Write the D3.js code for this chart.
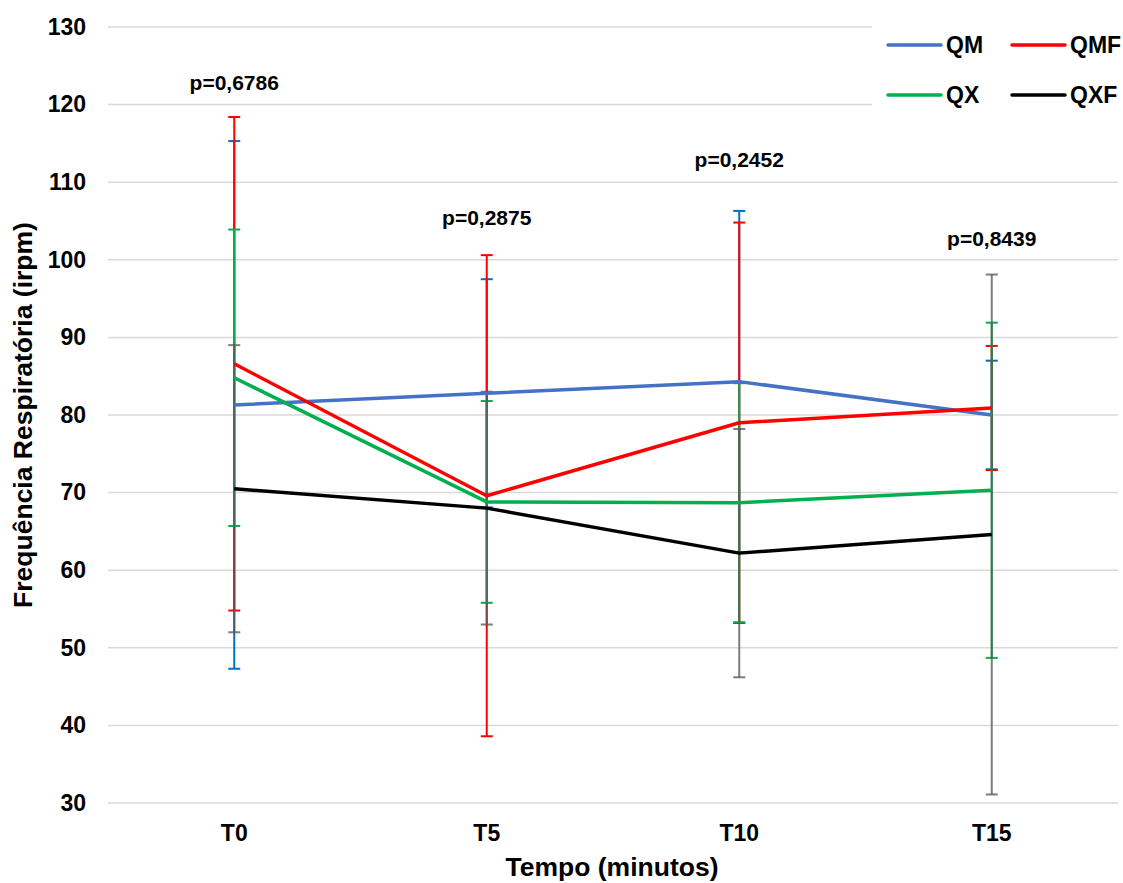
<!DOCTYPE html>
<html><head><meta charset="utf-8">
<script src="https://cdn.jsdelivr.net/npm/d3@7"></script>
<style>body{margin:0;background:#fff}svg{display:block;font-family:"Liberation Sans",Arial,sans-serif;font-weight:bold}</style>
</head><body><svg id="c" width="1123" height="883"></svg>
<script>
const categories = ["T0","T5","T10","T15"];
const seriesNames = ["QM","QMF","QX","QXF"];
const QM  = [81.3, 82.8, 84.3, 80.0];
const QMF = [86.6, 69.6, 79.0, 80.9];
const QX  = [84.8, 68.8, 68.7, 70.3];
const QXF = [70.5, 68.0, 62.2, 64.6];
const QM_err  = [34.0, 14.7, 22.0, 7.0];
const QMF_err = [31.8, 31.0, 25.8, 8.0];
const QX_err  = [19.1, 13.0, 15.4, 21.6];
const QXF_err = [18.5, 15.0, 16.0, 33.5];
const yTicks = [30,40,50,60,70,80,90,100,110,120,130];
const pLabels = ["p=0,6786","p=0,2875","p=0,2452","p=0,8439"];
const pLabelY = [122.9, 105.4, 112.9, 102.8];

const lineColors = {QM:"#4472C4", QMF:"#FF0000", QX:"#00B050", QXF:"#000000"};
const errColors = {QM:"#0070C0", QMF:"#FF0000", QX:"#00B050", QXF:"#595959"};
const errOpacity = {QM:1, QMF:1, QX:1, QXF:0.78};
const values = {QM, QMF, QX, QXF};
const errs = {QM:QM_err, QMF:QMF_err, QX:QX_err, QXF:QXF_err};

const svg = d3.select("#c");
const x = d3.scaleBand().domain(categories).range([108,1118]);
const y = d3.scaleLinear().domain([30,130]).range([803,27]);
const cx = c => x(c) + x.bandwidth()/2;

// gridlines
svg.append("g").selectAll("line").data(yTicks).join("line")
  .attr("x1",108).attr("x2",1118).attr("y1",d=>y(d)).attr("y2",d=>y(d))
  .attr("stroke","#d9d9d9").attr("stroke-width",1.5);

// y axis labels
const yAxis = d3.axisLeft(y).tickValues(yTicks).tickSize(0).tickPadding(0);
const gy = svg.append("g").attr("transform","translate(86,0)").call(yAxis);
gy.select(".domain").remove();
gy.selectAll("text").attr("font-size",23).attr("font-weight","bold").attr("fill","#000")
  .attr("font-family","Liberation Sans, Arial, sans-serif");

// x axis labels
const xAxis = d3.axisBottom(x).tickSize(0).tickPadding(0);
const gx = svg.append("g").attr("transform","translate(0,825)").call(xAxis);
gx.select(".domain").remove();
gx.selectAll("text").attr("font-size",23).attr("font-weight","bold").attr("fill","#000")
  .attr("font-family","Liberation Sans, Arial, sans-serif");

// error bars
seriesNames.forEach(s => {
  const g = svg.append("g").attr("stroke",errColors[s]).attr("stroke-opacity",errOpacity[s]).attr("stroke-width",2);
  categories.forEach((c,i) => {
    const v = values[s][i], e = errs[s][i], xc = cx(c);
    g.append("line").attr("x1",xc).attr("x2",xc).attr("y1",y(v+e)).attr("y2",y(v-e));
    g.append("line").attr("x1",xc-6).attr("x2",xc+6).attr("y1",y(v+e)).attr("y2",y(v+e));
    g.append("line").attr("x1",xc-6).attr("x2",xc+6).attr("y1",y(v-e)).attr("y2",y(v-e));
  });
});

// lines
const line = d3.line().x((d,i)=>cx(categories[i])).y(d=>y(d));
seriesNames.forEach(s => {
  svg.append("path").datum(values[s]).attr("d",line).attr("fill","none")
    .attr("stroke",lineColors[s]).attr("stroke-width",3.5).attr("stroke-linejoin","round");
});

// p labels
svg.append("g").selectAll("text").data(pLabels).join("text")
  .attr("x",(d,i)=>cx(categories[i])).attr("y",(d,i)=>y(pLabelY[i]))
  .attr("text-anchor","middle").attr("dominant-baseline","central")
  .attr("font-size",21).text(d=>d);

// legend
svg.append("rect").attr("x",872).attr("y",18).attr("width",251).attr("height",104).attr("fill","#fff");
const legendPos = [[888,45],[1012,45],[888,95],[1012,95]];
seriesNames.forEach((s,i) => {
  const [lx,ly] = legendPos[i];
  svg.append("line").attr("x1",lx).attr("x2",lx+53).attr("y1",ly).attr("y2",ly)
    .attr("stroke",lineColors[s]).attr("stroke-width",3.5).attr("stroke-linecap","round");
  svg.append("text").attr("x",lx+58).attr("y",ly).attr("dominant-baseline","central")
    .attr("font-size",23).text(s);
});

// axis titles
svg.append("text").attr("transform","translate(23,415) rotate(-90)").attr("text-anchor","middle")
  .attr("dominant-baseline","central").attr("font-size",26.5).text("Frequência Respiratória (irpm)");
svg.append("text").attr("x",612).attr("y",867).attr("text-anchor","middle")
  .attr("dominant-baseline","central").attr("font-size",26.5).text("Tempo (minutos)");
</script></body></html>
